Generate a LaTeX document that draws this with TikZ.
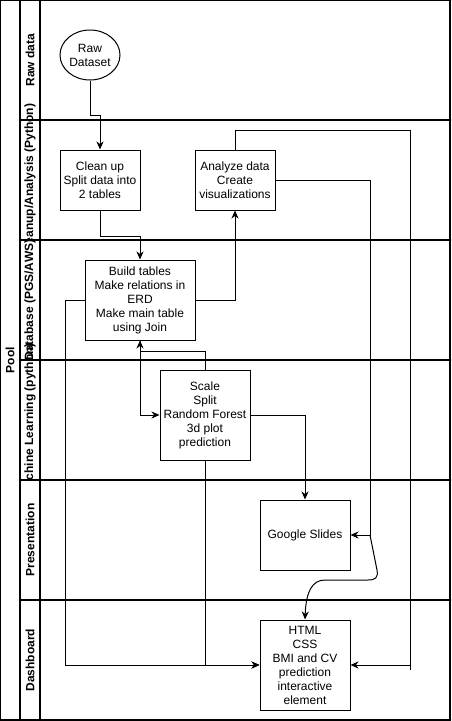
\documentclass[tikz,border=0pt]{standalone}
\usepackage{fontspec}
\setmainfont{Liberation Sans}
\usetikzlibrary{arrows.meta,shapes.geometric}
\begin{document}
\begin{tikzpicture}[x=1pt,y=-1pt,
  box/.style={draw, line width=1pt, fill=white, align=center,
    font=\fontsize{12}{14}\selectfont, inner sep=0pt},
  arr/.style={-{Stealth[length=8pt,width=7pt,inset=2.5pt]}, line width=1pt},
  wire/.style={line width=1pt},
  frame/.style={line width=1.2pt},
  lanelabel/.style={rotate=90, font=\bfseries\fontsize{12}{14}\selectfont},
]
\useasboundingbox (0,0) rectangle (451,721);

% pool header
\fill[white] (0,0) rectangle (450,720);
\node[lanelabel] (pool) at (10,360) {Pool};

% lane headers, drawn top to bottom so each header hides the overflow of the one above
\foreach \yy/\txt [count=\i] in {0/{Raw data}, 120/{Cleanup/Analysis (Python)},
    240/{Database (PGS/AWS)}, 360/{Machine Learning (python)},
    480/{Presentation}, 600/{Dashboard}} {
  \fill[white] (20,\yy) rectangle (40,\yy+120);
  \node[lanelabel] (lane\i) at (30,\yy+60) {\txt};
}

% lane borders
\draw[frame] (0,0) rectangle (450,720);
\draw[frame] (20,0) -- (20,720);
\draw[frame] (40,0) -- (40,720);
\foreach \yy in {120,240,360,480,600}
  \draw[frame] (20,\yy) -- (450,\yy);

% process steps
\node[draw, ellipse, line width=1pt, fill=white, minimum width=60pt, minimum height=50pt,
  inner sep=0pt, label={[align=center, font=\fontsize{12}{14}\selectfont]center:Raw\\Dataset}]
  (raw) at (90,55) {};
\node[box, minimum width=80pt, minimum height=60pt] (clean) at (100,180)
  {Clean up\\Split data into\\2 tables};
\node[box, minimum width=80pt, minimum height=60pt] (analyze) at (235,180)
  {Analyze data\\Create\\visualizations};
\node[box, minimum width=110pt, minimum height=80pt] (build) at (140,300)
  {Build tables\\Make relations in\\ERD\\Make main table\\using Join};
\node[box, minimum width=90pt, minimum height=90pt] (ml) at (205,415)
  {Scale\\Split\\Random Forest\\3d plot\\prediction};
\node[box, minimum width=90pt, minimum height=70pt] (slides) at (305,535)
  {Google Slides};
\node[box, minimum width=90pt, minimum height=90pt] (html) at (305,665)
  {HTML\\CSS\\BMI and CV\\prediction\\interactive\\element};

\coordinate (split) at (370,535);

% connectors
\draw[arr] (raw.south) |- (100,115) -- (clean.north);
\draw[arr] (clean.south) |- (140,236) -- (build.north);
\draw[arr] (build.east) -| (analyze.south);
\draw[arr] (analyze.north) |- (410,130) |- (html.east);
\draw[wire] (410,665) -- (410,670);
\draw[arr] (analyze.east) -| (split) -- (slides.east);
\draw[arr] (split) -- (377,570) .. controls (378.5,578) and (375,580) .. (368,580)
  -- (325,580) .. controls (312,580) and (306,592) .. (html.north);
\draw[arr] (ml.east) -| (slides.north);
\draw[arr] (ml.north) |- (140,351) -- (build.south);
\draw[arr] (build.south) |- (ml.west);
\draw[arr] (build.west) -| (65,665) -- (html.west);
\draw[arr] (ml.south) |- (html.west);
\end{tikzpicture}
\end{document}
